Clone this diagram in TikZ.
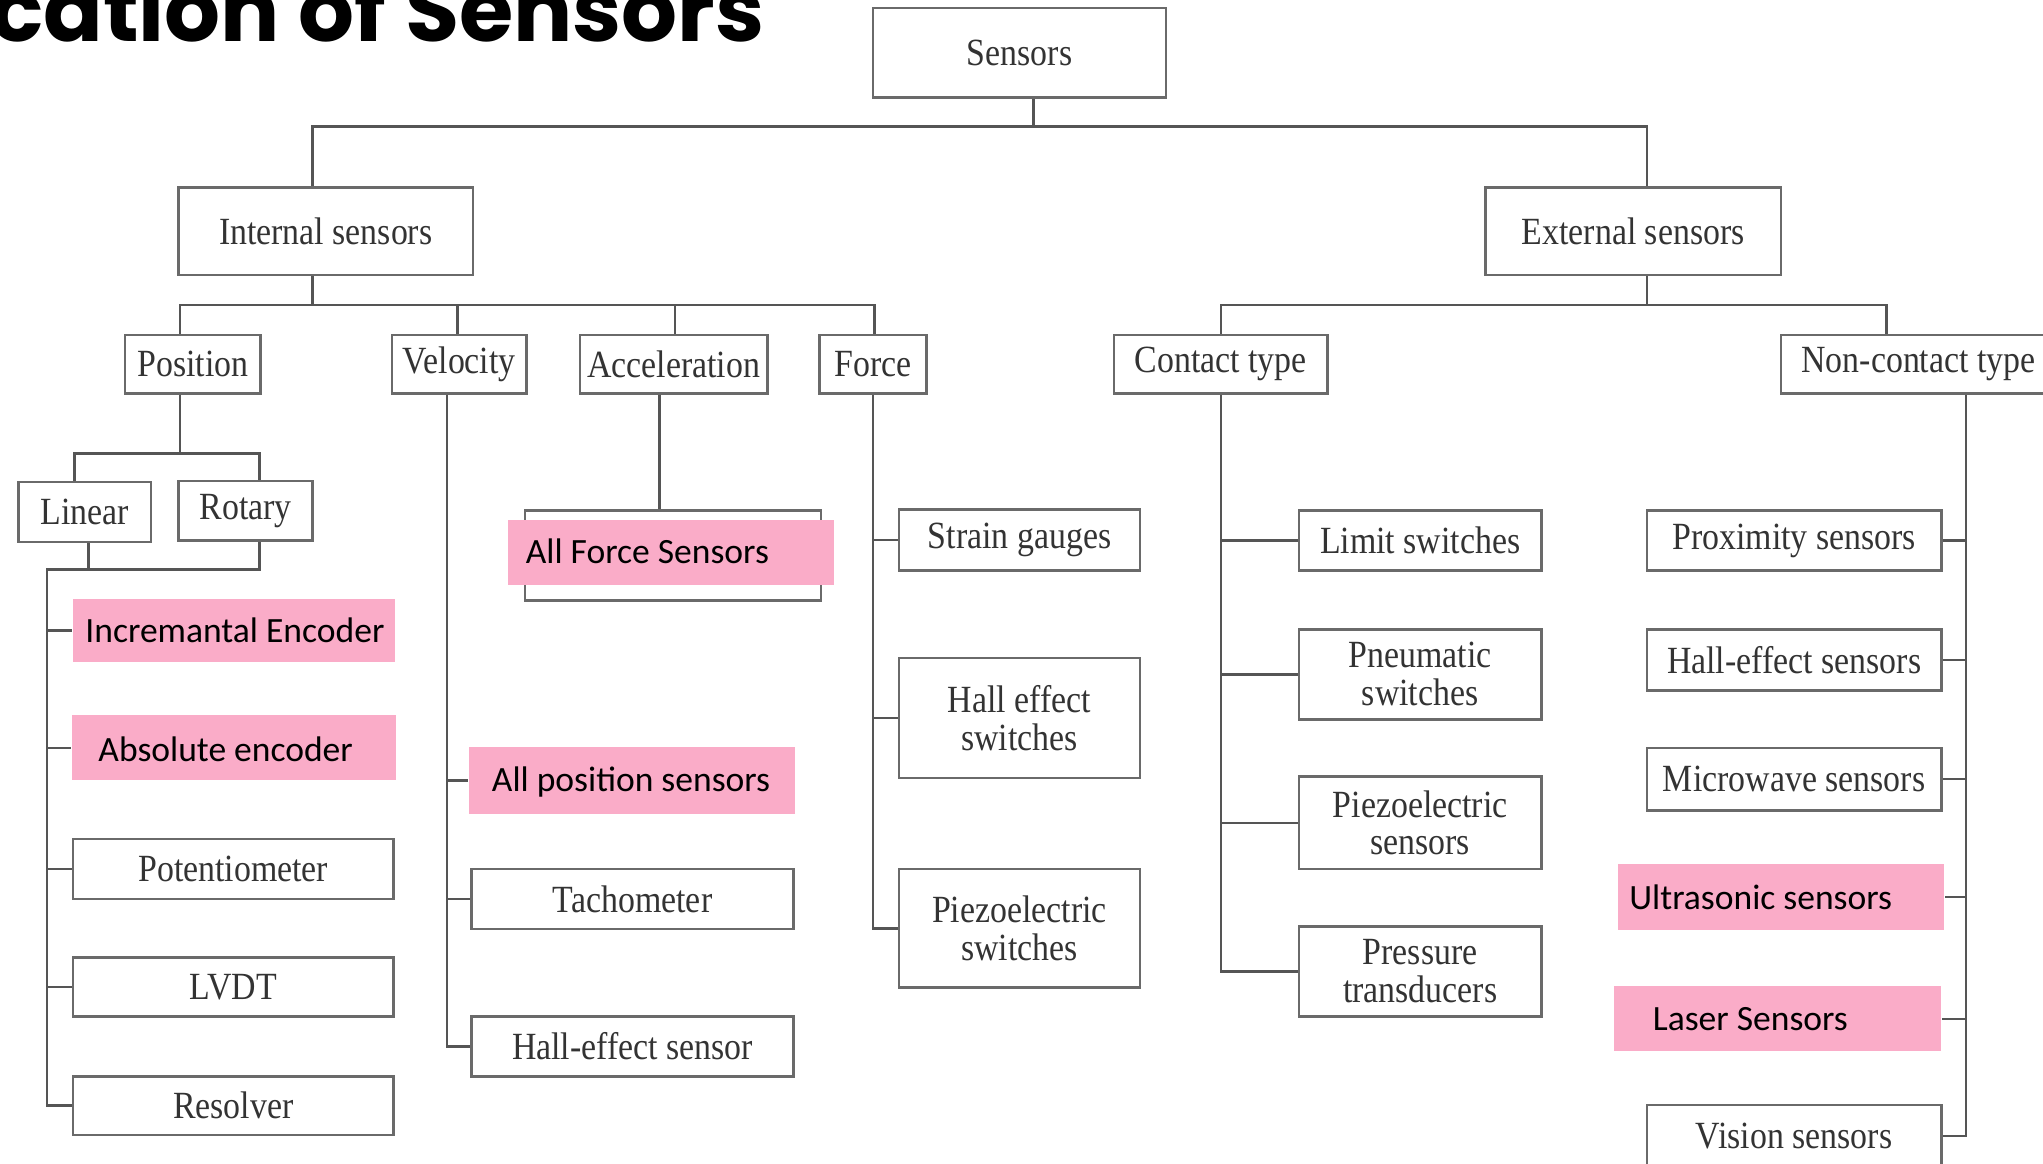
\documentclass[tikz,border=0pt]{standalone}
\usepackage{fontspec}
\setmainfont{Liberation Serif}
\newfontfamily\boxfont[FakeStretch=0.88]{Liberation Serif}
\newfontfamily\pinkfont{Carlito}
\newfontfamily\titlefont{Poppins}
\definecolor{boxc}{HTML}{6A6A6A}
\definecolor{linec}{HTML}{555555}
\definecolor{txtc}{HTML}{333333}
\definecolor{pinkc}{RGB}{250,172,200}
\tikzset{
  box/.style={draw=boxc, line width=0.7pt, fill=white, inner sep=0pt, text=txtc,
    font=\boxfont\fontsize{10.5pt}{10.3pt}\selectfont, align=center},
  pinkbox/.style={fill=pinkc, inner sep=0pt},
  pinktxt/.style={font=\pinkfont\fontsize{9.7pt}{11pt}\selectfont, text=black, inner sep=0pt, anchor=west},
  conn/.style={draw=linec, line width=0.7pt},
}
% \bxnode{style}{x1}{y1}{x2}{y2}{name}{text}
\newcommand\bxnode[7]{%
  \node[#1, minimum width={(#4-#2)*0.0125cm}, minimum height={(#5-#3)*0.0125cm}]
    (#6) at ({(#2+#4)/2},{(#3+#5)/2}) {#7};}
\begin{document}
\begin{tikzpicture}[x=0.0125cm,y=-0.0125cm]
\useasboundingbox (0,0) rectangle (1568,893);
\clip (0,0) rectangle (1568,893);
\fill[white] (0,0) rectangle (1568,893);
% title
\node[anchor=base west, inner sep=0pt, font=\titlefont\bfseries\fontsize{24pt}{28pt}\selectfont] (title) at (-8,32) {cation of Sensors};
% level 0-1
\bxnode{box}{670}{6}{895}{75}{sensors}{Sensors}
\bxnode{box}{137}{144}{363}{211}{intl}{Internal sensors}
\bxnode{box}{1140}{144}{1367}{211}{extl}{External sensors}
% level 2
\bxnode{box}{96}{257}{200}{302}{pos}{Position}
\bxnode{box}{301}{257}{404}{302}{vel}{Velocity}
\bxnode{box}{445}{257}{589}{302}{acc}{Acceleration}
\bxnode{box}{629}{257}{711}{302}{force}{Force}
\bxnode{box}{855}{257}{1019}{302}{cont}{Contact type}
\bxnode{box}{1367}{257}{1578}{302}{ncont}{Non-contact type}
% position subtree
\bxnode{box}{14}{370}{116}{416}{lin}{Linear}
\bxnode{box}{137}{369}{240}{415}{rot}{Rotary}
\bxnode{pinkbox}{56}{460}{303}{508}{inc}{}
\node[pinktxt] (inct) at (65,484) {Incremantal Encoder};
\bxnode{pinkbox}{55}{549}{304}{599}{abs}{}
\node[pinktxt] (abst) at (75,575) {Absolute encoder};
\bxnode{box}{56}{644}{302}{690}{pot}{Potentiometer}
\bxnode{box}{56}{735}{302}{780}{lvdt}{LVDT}
\bxnode{box}{56}{826}{302}{871}{res}{Resolver}
% velocity subtree
\bxnode{pinkbox}{360}{573}{610}{625}{allpos}{}
\node[pinktxt] (allpost) at (377,600) {All position sensors};
\bxnode{box}{362}{667}{609}{713}{tach}{Tachometer}
\bxnode{box}{362}{780}{609}{826}{hes}{Hall-effect sensor}
% acceleration subtree
\bxnode{box}{403}{392}{630}{461}{afb}{}
\bxnode{pinkbox}{390}{399}{640}{449}{afp}{}
\node[pinktxt] (afpt) at (403,423) {All Force Sensors};
% force subtree
\bxnode{box}{690}{391}{875}{438}{sg}{Strain gauges}
\bxnode{box}{690}{505}{875}{597}{hsw}{Hall effect\\switches}
\bxnode{box}{690}{667}{875}{758}{pzs}{Piezoelectric\\switches}
% contact subtree
\bxnode{box}{997}{392}{1183}{438}{lim}{Limit switches}
\bxnode{box}{997}{483}{1183}{552}{pneu}{Pneumatic\\switches}
\bxnode{box}{997}{596}{1183}{667}{pzsen}{Piezoelectric\\sensors}
\bxnode{box}{997}{711}{1183}{780}{pres}{Pressure\\transducers}
% non-contact subtree
\bxnode{box}{1264}{392}{1490}{438}{prox}{Proximity sensors}
\bxnode{box}{1264}{483}{1490}{530}{hals}{Hall-effect sensors}
\bxnode{box}{1264}{574}{1490}{622}{mic}{Microwave sensors}
\bxnode{pinkbox}{1242}{663}{1492}{714}{ultra}{}
\node[pinktxt] (ultrat) at (1250,689) {Ultrasonic sensors};
\bxnode{pinkbox}{1239}{757}{1490}{807}{laser}{}
\node[pinktxt] (lasert) at (1268,782) {Laser Sensors};
\bxnode{box}{1264}{848}{1490}{896}{vis}{Vision sensors}
% connector coordinates
\coordinate (s0) at (793,97);
\coordinate (bi) at (240,97);
\coordinate (be) at (1264,97);
\coordinate (ib) at (240,234);
\coordinate (ip) at (138,234);
\coordinate (iv) at (351,234);
\coordinate (ia) at (518,234);
\coordinate (if) at (671,234);
\coordinate (eb) at (1264,234);
\coordinate (ec) at (937,234);
\coordinate (en) at (1448,234);
\coordinate (pb) at (138,348);
\coordinate (pl) at (57,348);
\coordinate (pr) at (199,348);
\coordinate (lb) at (68,437);
\coordinate (rb) at (199,437);
\coordinate (lt) at (36,437);
\coordinate (vx) at (343,302);
\coordinate (ax) at (506,302);
\coordinate (fx) at (670,302);
\coordinate (cx) at (937,302);
\coordinate (nx) at (1509,302);
% connectors
\draw[conn] (sensors.south -| s0) -- (s0);
\draw[conn] (intl.north -| bi) -- (bi) -- (be) -- (extl.north -| be);
\draw[conn] (intl.south -| ib) -- (ib);
\draw[conn] (pos.north -| ip) -- (ip) -- (if) -- (force.north -| if);
\draw[conn] (vel.north -| iv) -- (iv);
\draw[conn] (acc.north -| ia) -- (ia);
\draw[conn] (extl.south -| eb) -- (eb);
\draw[conn] (cont.north -| ec) -- (ec) -- (en) -- (ncont.north -| en);
\draw[conn] (pos.south -| pb) -- (pb);
\draw[conn] (lin.north -| pl) -- (pl) -- (pr) -- (rot.north -| pr);
\draw[conn] (lin.south -| lb) -- (lb);
\draw[conn] (rot.south -| rb) -- (rb) -- (lt) |- (res.west);
\draw[conn] (lt |- inc.west) -- (inc.west);
\draw[conn] (lt |- abs.west) -- (abs.west);
\draw[conn] (lt |- pot.west) -- (pot.west);
\draw[conn] (lt |- lvdt.west) -- (lvdt.west);
\draw[conn] (vel.south -| vx) |- (hes.west);
\draw[conn] (vx |- allpos.west) -- (allpos.west);
\draw[conn] (vx |- tach.west) -- (tach.west);
\draw[conn] (acc.south -| ax) -- (afb.north -| ax);
\draw[conn] (force.south -| fx) |- (pzs.west);
\draw[conn] (fx |- sg.west) -- (sg.west);
\draw[conn] (fx |- hsw.west) -- (hsw.west);
\draw[conn] (cont.south -| cx) |- (pres.west);
\draw[conn] (cx |- lim.west) -- (lim.west);
\draw[conn] (cx |- pneu.west) -- (pneu.west);
\draw[conn] (cx |- pzsen.west) -- (pzsen.west);
\draw[conn] (ncont.south -| nx) |- (vis.east);
\draw[conn] (nx |- prox.east) -- (prox.east);
\draw[conn] (nx |- hals.east) -- (hals.east);
\draw[conn] (nx |- mic.east) -- (mic.east);
\draw[conn] (nx |- ultra.east) -- (ultra.east);
\draw[conn] (nx |- laser.east) -- (laser.east);
\end{tikzpicture}
\end{document}
